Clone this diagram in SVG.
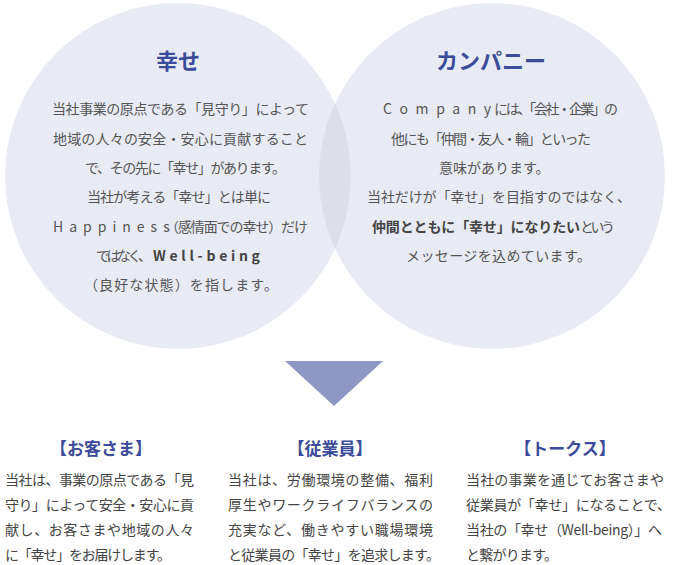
<svg xmlns="http://www.w3.org/2000/svg" width="673" height="565" viewBox="0 0 673 565">
<style>
text{font-family:"Noto Sans CJK JP","Noto Sans",sans-serif;}
.ttl{font-size:22px;font-weight:bold;fill:#3d4b9b;text-anchor:middle;}
.sub{font-size:17px;font-weight:bold;fill:#3d4b9b;text-anchor:middle;}
.c{font-size:14px;fill:#555555;}
.b{font-size:14px;fill:#444444;}
.bold{font-weight:bold;fill:#444444;}
.circle{fill:#e9ebf4;}
.lens{fill:#dcdfea;}
.arrow{fill:#8f97c4;}
</style>
<defs>
<clipPath id="clipL"><circle cx="178" cy="176" r="173"/></clipPath>
</defs>
<rect width="673" height="565" fill="#ffffff"/>
<g id="node-happiness">
<circle class="circle" cx="178" cy="176" r="173"/>
</g>
<g id="node-company">
<circle class="circle" cx="492" cy="176" r="173"/>
<circle class="lens" cx="492" cy="176" r="173" clip-path="url(#clipL)"/>
</g>
<g id="node-happiness-text">
<text class="ttl" x="178" y="69">幸せ</text>
<text class="c" x="52" y="114" textLength="257" lengthAdjust="spacing">当社事業の原点である「見守り」によって</text>
<text class="c" x="53" y="143.5" textLength="255" lengthAdjust="spacing">地域の人々の安全・安心に貢献すること</text>
<text class="c" x="85" y="173" textLength="201" lengthAdjust="spacing">で、その先に「幸せ」があります。</text>
<text class="c" x="87" y="202" textLength="184" lengthAdjust="spacing">当社が考える「幸せ」とは単に</text>
<text class="c" x="53" y="231.5" letter-spacing="6">Happiness</text>
<text class="c" x="165" y="231.5" textLength="143" lengthAdjust="spacing">（感情面での幸せ）だけ</text>
<text class="c" x="96" y="261" textLength="56" lengthAdjust="spacing">ではなく、</text>
<text class="c bold" x="153" y="261" letter-spacing="3.7">Well-being</text>
<text class="c" x="84" y="290" textLength="194" lengthAdjust="spacing">（良好な状態）を指します。</text>
</g>
<g id="node-company-text">
<text class="ttl" x="491" y="69">カンパニー</text>
<text class="c" x="383" y="114" letter-spacing="7.6">Company</text>
<text class="c" x="494" y="114" textLength="124" lengthAdjust="spacing">には、「会社・企業」の</text>
<text class="c" x="391" y="143.5" textLength="200" lengthAdjust="spacing">他にも「仲間・友人・輪」といった</text>
<text class="c" x="439" y="173">意味があります。</text>
<text class="c" x="367" y="202" textLength="264" lengthAdjust="spacing">当社だけが「幸せ」を目指すのではなく、</text>
<text class="c bold" x="372" y="231.5" textLength="208" lengthAdjust="spacing">仲間とともに「幸せ」になりたい</text>
<text class="c" x="580" y="231.5" textLength="35" lengthAdjust="spacing">という</text>
<text class="c" x="406" y="261" textLength="185" lengthAdjust="spacing">メッセージを込めています。</text>
</g>
<g id="connectors">
<polygon class="arrow" points="285,361 383,361 334,406"/>
</g>
<g id="node-customers">
<text class="sub" x="101" y="455">【お客さま】</text>
<text class="b" x="5" y="484.5" textLength="189" lengthAdjust="spacing">当社は、事業の原点である「見</text>
<text class="b" x="5" y="510" textLength="189" lengthAdjust="spacing">守り」によって安全・安心に貢</text>
<text class="b" x="5" y="535" textLength="189" lengthAdjust="spacing">献し、お客さまや地域の人々</text>
<text class="b" x="5" y="559.5" textLength="166" lengthAdjust="spacing">に「幸せ」をお届けします。</text>
</g>
<g id="node-employees">
<text class="sub" x="330" y="455">【従業員】</text>
<text class="b" x="228" y="484.5" textLength="205" lengthAdjust="spacing">当社は、労働環境の整備、福利</text>
<text class="b" x="228" y="510" textLength="205" lengthAdjust="spacing">厚生やワークライフバランスの</text>
<text class="b" x="228" y="535" textLength="205" lengthAdjust="spacing">充実など、働きやすい職場環境</text>
<text class="b" x="228" y="559.5" textLength="212" lengthAdjust="spacing">と従業員の「幸せ」を追求します。</text>
</g>
<g id="node-talks">
<text class="sub" x="565" y="455">【トークス】</text>
<text class="b" x="466" y="484.5" textLength="198" lengthAdjust="spacing">当社の事業を通じてお客さまや</text>
<text class="b" x="466" y="510" textLength="205" lengthAdjust="spacing">従業員が「幸せ」になることで、</text>
<text class="b" x="466" y="535" textLength="196" lengthAdjust="spacing">当社の「幸せ（Well-being）」へ</text>
<text class="b" x="466" y="559.5" textLength="92" lengthAdjust="spacing">と繋がります。</text>
</g>
</svg>
